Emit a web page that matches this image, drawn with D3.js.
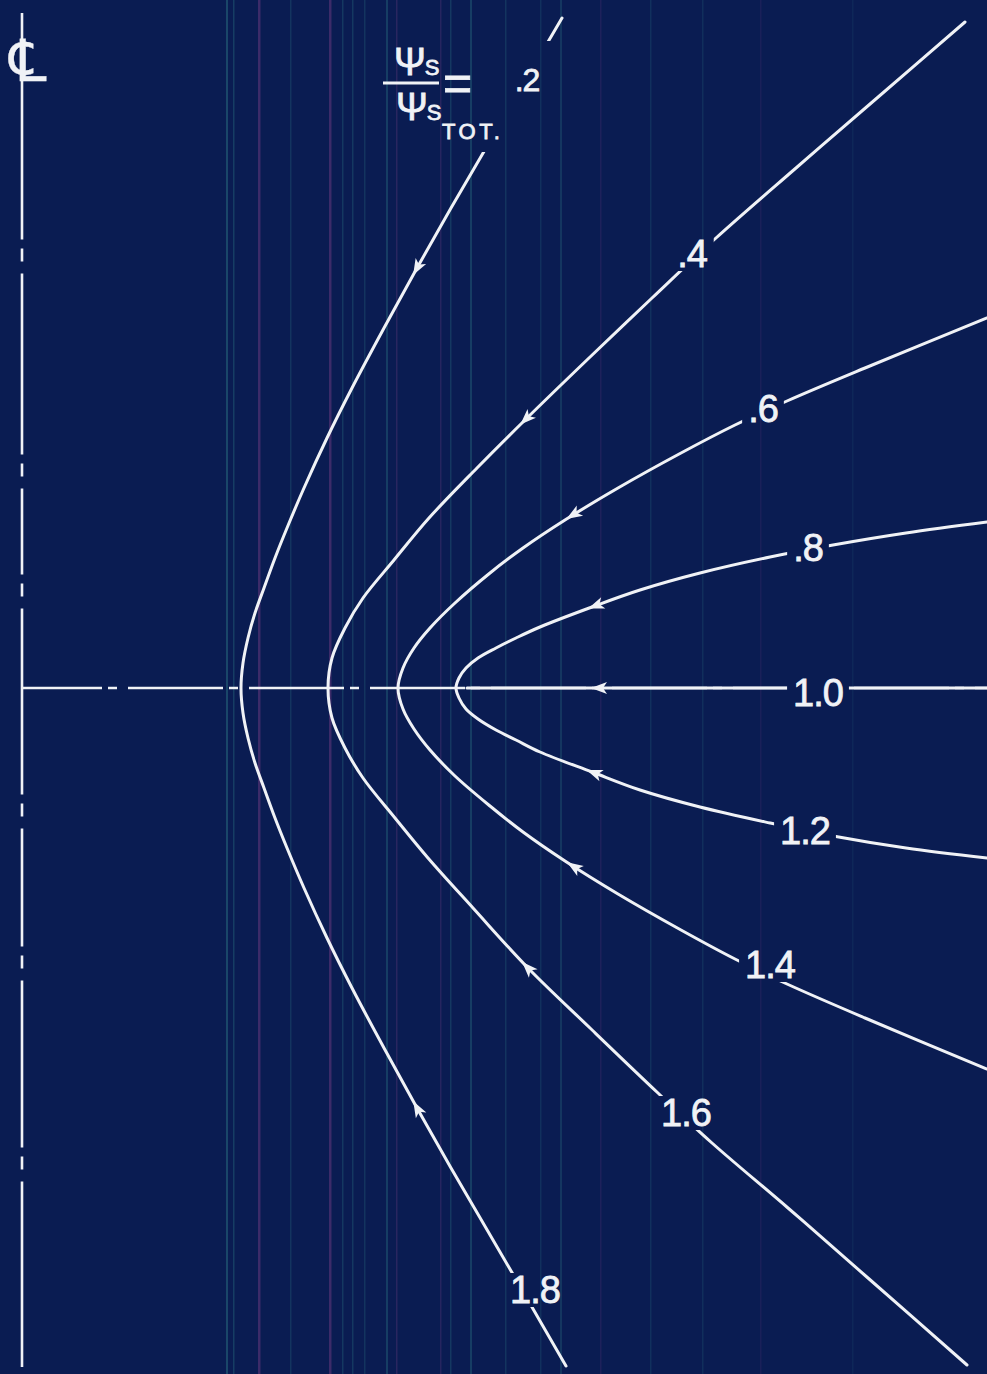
<!DOCTYPE html>
<html>
<head>
<meta charset="utf-8">
<script src="https://cdn.jsdelivr.net/npm/d3@7"></script>
<style>
  html, body { margin: 0; padding: 0; background: #0a1c50; }
  svg { display: block; }
</style>
</head>
<body>
<script>
// Streamlines of psi_s / psi_s,tot about the centre line.
// Coordinates: r = distance from the centre line, z = distance from the axis (up positive).

const contourValues = [0.2, 0.4, 0.6, 0.8, 1.0, 1.2, 1.4, 1.6, 1.8];

// upper branches (value < 1), from the far end toward the vertex on the axis
const upper02 = [[5.40,6.70],[4.99,6.00],[4.64,5.40],[4.29,4.80],[3.95,4.20],[3.62,3.60],[3.30,3.00],[3.05,2.50],[2.82,2.00],[2.65,1.60],[2.53,1.30],[2.42,1.00],[2.33,0.75],[2.26,0.50],[2.21,0.25],[2.19,0]];
const upper04 = [[9.43,6.66],[8.55,5.90],[7.74,5.20],[6.94,4.50],[6.30,3.90],[5.67,3.30],[5.03,2.68],[4.55,2.20],[4.07,1.70],[3.72,1.28],[3.41,0.90],[3.23,0.60],[3.10,0.30],[3.06,0]];
const upper06 = [[9.65,3.70],[8.43,3.20],[7.65,2.87],[7.13,2.63],[6.59,2.35],[5.96,2.00],[5.43,1.68],[5.01,1.40],[4.68,1.15],[4.33,0.85],[4.08,0.60],[3.92,0.40],[3.81,0.20],[3.76,0]];
const upper08 = [[9.65,1.66],[8.84,1.55],[8.11,1.43],[7.48,1.31],[6.78,1.15],[6.18,0.98],[5.70,0.81],[5.18,0.61],[4.94,0.50],[4.74,0.40],[4.56,0.30],[4.44,0.20],[4.37,0.10],[4.34,0]];

// the dividing streamline along the axis
const line10 = [[9.65,0],[4.45,0]];

// lower branches (value > 1), from the vertex toward the far end
const lower18 = [[2.21,-0.25],[2.26,-0.50],[2.33,-0.75],[2.42,-1.00],[2.53,-1.30],[2.65,-1.60],[2.82,-2.00],[3.05,-2.50],[3.30,-3.00],[3.62,-3.60],[3.95,-4.20],[4.29,-4.80],[4.64,-5.40],[4.99,-6.00],[5.44,-6.78]];
const lower16 = [[3.10,-0.30],[3.23,-0.60],[3.41,-0.90],[3.73,-1.30],[4.06,-1.70],[4.51,-2.20],[5.06,-2.80],[5.68,-3.40],[6.36,-4.05],[6.90,-4.55],[7.66,-5.20],[8.46,-5.90],[9.45,-6.77]];
const lower14 = [[3.81,-0.21],[3.92,-0.41],[4.08,-0.62],[4.33,-0.88],[4.68,-1.18],[5.01,-1.44],[5.43,-1.73],[5.96,-2.06],[6.59,-2.42],[7.13,-2.71],[7.65,-2.96],[8.43,-3.30],[9.65,-3.81]];
const lower12 = [[4.37,-0.10],[4.44,-0.21],[4.56,-0.31],[4.74,-0.42],[4.94,-0.52],[5.18,-0.64],[5.70,-0.84],[6.18,-1.02],[6.78,-1.19],[7.48,-1.35],[8.11,-1.48],[8.84,-1.60],[9.65,-1.70]];

// where each value is lettered on its streamline
const labelText = [".2", ".4", ".6", ".8", "1.0", "1.2", "1.4", "1.6", "1.8"];
const labelAt = [[5.05,6.08],[6.70,4.34],[7.41,2.79],[7.86,1.40],[7.96,-0.05],[7.83,-1.43],[7.48,-2.77],[6.64,-4.25],[5.13,-6.02]];

// flow-direction arrows, one per streamline
const arrowAt = [[3.93,4.16],[5.00,2.68],[5.50,1.68],[5.70,0.81],[5.73,0],[5.68,-0.85],[5.50,-1.74],[5.00,-2.80],[3.90,-4.19]];

// extents of the centre line and of the axis; dots of the centre line's dash-dot
const centreLineZ = [6.75, -6.79];
const centreDotsZ = [4.33, 2.18, 0.98, -1.22, -2.74, -4.75];
const axisR = [0, 9.65];

const W = 987, H = 1374;
const INK = "#f0f2f6";
const FONT = "'Liberation Sans', 'DejaVu Sans', sans-serif";

const x = d3.scaleLinear().domain([0, 9.65]).range([22, 987]);
const y = d3.scaleLinear().domain([6.88, -6.86]).range([0, 1374]);

const svg = d3.select("body").append("svg")
  .attr("width", W).attr("height", H)
  .attr("viewBox", `0 0 ${W} ${H}`);

// paper
svg.append("rect").attr("width", W).attr("height", H).attr("fill", "#0a1c52");

// faint vertical banding of the print
const TEAL = "#2f7a86", MAUVE = "#7a3f86";
const bands = [
  [226, TEAL, 0.45, 2], [233, TEAL, 0.35, 1.5], [258, MAUVE, 0.45, 2.5],
  [290, TEAL, 0.25, 1.5], [329, MAUVE, 0.45, 2.5], [342, TEAL, 0.3, 1.5],
  [352, TEAL, 0.3, 1.5], [364, TEAL, 0.25, 1.5], [386, TEAL, 0.35, 2],
  [396, MAUVE, 0.28, 1.5], [440, MAUVE, 0.25, 1.5], [450, TEAL, 0.3, 1.5],
  [470, TEAL, 0.35, 2], [505, TEAL, 0.25, 1.5], [540, TEAL, 0.22, 1.5],
  [560, TEAL, 0.28, 2], [600, MAUVE, 0.18, 1.5], [650, TEAL, 0.22, 1.5],
  [702, TEAL, 0.2, 1.5], [760, MAUVE, 0.15, 1.5], [852, TEAL, 0.12, 1.5]
];
svg.append("g").selectAll("rect").data(bands).join("rect")
  .attr("x", d => d[0]).attr("y", 0).attr("width", d => d[3]).attr("height", H)
  .attr("fill", d => d[1]).attr("opacity", d => d[2]);

const defs = svg.append("defs");
const mask = defs.append("mask").attr("id", "label-gaps")
  .attr("maskUnits", "userSpaceOnUse")
  .attr("x", 0).attr("y", 0).attr("width", W).attr("height", H);
mask.append("rect").attr("width", W).attr("height", H).attr("fill", "white");

const drawing = svg.append("g").attr("mask", "url(#label-gaps)");
const lettering = svg.append("g").attr("fill", INK).attr("stroke", INK)
  .attr("stroke-width", 0.8).attr("font-family", FONT);

// centre line (dash-dot, hand spaced): gap, short dot, gap around each dot
{
  const y0 = y(centreLineZ[0]), y1 = y(centreLineZ[1]);
  const dash = [];
  let pos = y0;
  centreDotsZ.map(z => y(z)).forEach(c => {
    const gapStart = c - 15.5;
    dash.push(gapStart - pos, 9, 13, 12);
    pos = c + 18.5;
  });
  dash.push(y1 - pos + 20, 0);
  drawing.append("line")
    .attr("x1", x(0)).attr("x2", x(0)).attr("y1", y0).attr("y2", y1)
    .attr("stroke", INK).attr("stroke-width", 2.6)
    .attr("stroke-dasharray", dash.join(","));
}

// axis (dash-dot)
drawing.append("line")
  .attr("x1", x(axisR[0])).attr("x2", x(axisR[1]))
  .attr("y1", y(0)).attr("y2", y(0))
  .attr("stroke", INK).attr("stroke-width", 2.6)
  .attr("stroke-dasharray", "95,6,9,11").attr("stroke-dashoffset", 15);

// streamlines: each value < 1 joins its partner > 1 through the vertex
const curves = [
  upper02.concat(lower18),
  upper04.concat(lower16),
  upper06.concat(lower14),
  upper08.concat(lower12),
  line10
];

const lineGen = d3.line()
  .x(d => x(d[0])).y(d => y(d[1]))
  .curve(d3.curveCatmullRom.alpha(0.5));

const paths = drawing.append("g").selectAll("path").data(curves).join("path")
  .attr("d", lineGen)
  .attr("fill", "none").attr("stroke", INK).attr("stroke-width", 3)
  .attr("stroke-linecap", "round").attr("stroke-linejoin", "round");

// arrows pointing along the flow, toward the axis
const pathForValue = v => paths.nodes()[v < 1 ? Math.round(v / 0.2) - 1 : v === 1 ? 4 : Math.round((2 - v) / 0.2) - 1];
const arrowData = contourValues.map((v, i) => {
  const node = pathForValue(v);
  const tx = x(arrowAt[i][0]), ty = y(arrowAt[i][1]);
  const len = node.getTotalLength();
  let best = 0, bestD = Infinity;
  for (let s = 0; s <= len; s += 1) {
    const p = node.getPointAtLength(s);
    const d = (p.x - tx) ** 2 + (p.y - ty) ** 2;
    if (d < bestD) { bestD = d; best = s; }
  }
  const p0 = node.getPointAtLength(Math.max(0, best - 4));
  const p1 = node.getPointAtLength(Math.min(len, best + 4));
  const sign = v > 1 ? -1 : 1;
  const ang = Math.atan2((p1.y - p0.y) * sign, (p1.x - p0.x) * sign) * 180 / Math.PI;
  const p = node.getPointAtLength(best);
  return { x: p.x, y: p.y, ang };
});
svg.append("g").selectAll("path").data(arrowData).join("path")
  .attr("d", "M4,0 L-12,-6 L-8,0 L-12,6 Z")
  .attr("transform", d => `translate(${d.x},${d.y}) rotate(${d.ang})`)
  .attr("fill", INK);

// contour values lettered on the streamlines
const labels = lettering.append("g").selectAll("text").data(labelText).join("text")
  .attr("x", (d, i) => x(labelAt[i][0]))
  .attr("y", (d, i) => y(labelAt[i][1]))
  .attr("text-anchor", "middle").attr("dominant-baseline", "central")
  .attr("font-size", (d, i) => i === 0 ? 32 : 38)
  .attr("letter-spacing", -1)
  .text(d => d);

// ratio heading  psi_s / psi_s,TOT =
const ratio = lettering.append("g");
const num = ratio.append("text").attr("x", 394).attr("y", 75);
num.append("tspan").attr("font-size", 38).text("Ψ");
num.append("tspan").attr("font-size", 22).attr("dx", -1).text("S");
ratio.append("line").attr("x1", 383).attr("x2", 439).attr("y1", 83).attr("y2", 83)
  .attr("stroke", INK).attr("stroke-width", 3.2);
ratio.append("text").attr("x", 443).attr("y", 100).attr("font-size", 50).text("=");
const den = ratio.append("text").attr("x", 396).attr("y", 120);
den.append("tspan").attr("font-size", 38).text("Ψ");
den.append("tspan").attr("font-size", 22).attr("dx", -1).text("S");
ratio.append("text").attr("x", 442).attr("y", 139).attr("font-size", 22)
  .attr("letter-spacing", 3.5).text("TOT.");

// centre-line mark
lettering.append("text")
  .attr("x", x(0) + 6).attr("y", 81)
  .attr("text-anchor", "middle")
  .attr("font-family", "'DejaVu Sans', sans-serif")
  .attr("font-size", 58).attr("stroke-width", 0.3)
  .text("\u2104");

// cut the lines where lettering sits on them
const pad = 6;
labels.each(function () {
  const b = this.getBBox();
  mask.append("rect")
    .attr("x", b.x - pad).attr("y", b.y + 4)
    .attr("width", b.width + 2 * pad).attr("height", b.height - 8)
    .attr("fill", "black");
});
{
  const b = ratio.node().getBBox();
  mask.append("rect")
    .attr("x", b.x).attr("y", b.y).attr("width", b.width + 90).attr("height", b.height + 8)
    .attr("fill", "black");
}
</script>
</body>
</html>
